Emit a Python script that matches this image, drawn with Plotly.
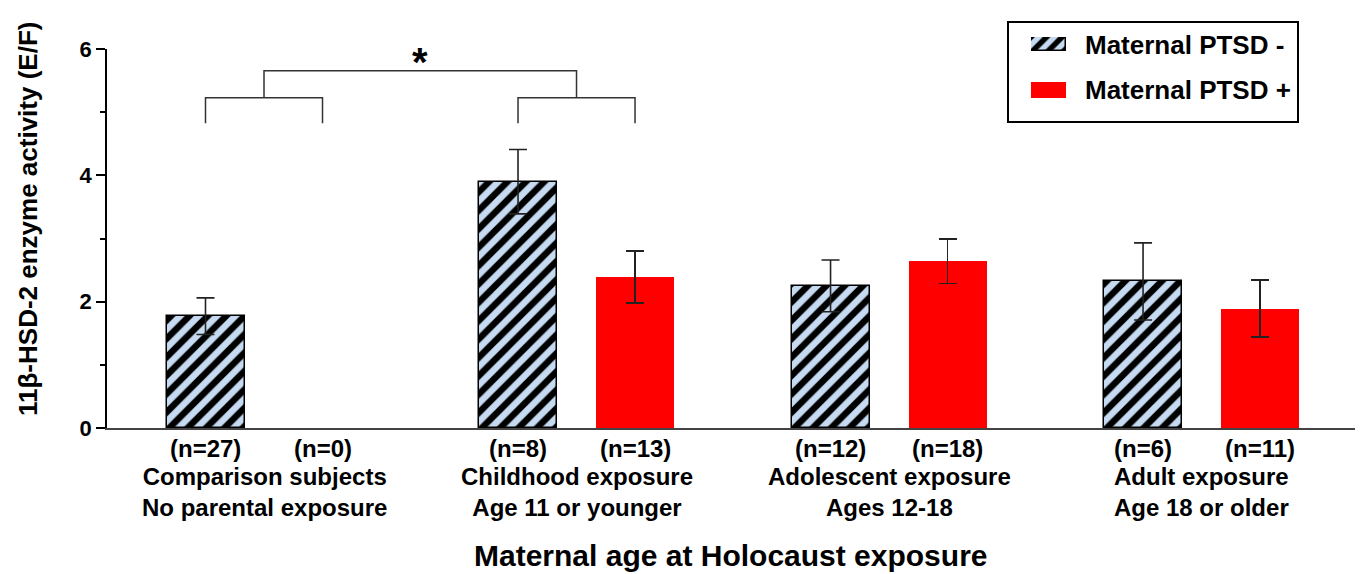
import plotly.graph_objects as go

# ---- data ----
groups = ["Comparison subjects<br>No parental exposure",
          "Childhood exposure<br>Age 11 or younger",
          "Adolescent exposure<br>Ages 12-18",
          "Adult exposure<br>Age 18 or older"]
neg_values = [1.77, 3.90, 2.25, 2.32]
neg_errors = [0.29, 0.51, 0.41, 0.61]
neg_n = ["(n=27)", "(n=8)", "(n=12)", "(n=6)"]
pos_values = [None, 2.39, 2.64, 1.89]
pos_errors = [0.0, 0.41, 0.35, 0.45]
pos_n = ["(n=0)", "(n=13)", "(n=18)", "(n=11)"]
series_names = ["Maternal PTSD -", "Maternal PTSD +"]
y_title = "11β-HSD-2 enzyme activity (E/F)"
x_title = "Maternal age at Holocaust exposure"
y_ticks = [0, 2, 4, 6]

# ---- layout geometry ----
W, H = 1363, 574
L, R, T, B = 107, 8, 10, 146
PLOT_TOP = 49
PW, PH = W - L - R, H - T - B
def px2x(px):
    return (px - L) / PW
def py2y(py):
    return (H - B - py) / PH

FONT = "Liberation Sans, Arial, sans-serif"
centers = list(range(len(groups)))
off = 0.1872
bw = 0.2496
neg_x = [c - off for c in centers]
pos_x = [c + off for c in centers]

HATCH_BG = "#c6dbf1"
RED = "#ff0000"

fig = go.Figure()
fig.add_trace(go.Bar(
    x=neg_x, y=neg_values, width=bw, name=series_names[0],
    marker=dict(color=HATCH_BG, line=dict(color="black", width=1.5),
                pattern=dict(shape="/", fgcolor="black", bgcolor=HATCH_BG,
                             size=13, solidity=0.5, fillmode="replace", fgopacity=1)),
    error_y=dict(type="data", array=neg_errors, color="#222", thickness=1.6, width=9),
    showlegend=False))
fig.add_trace(go.Bar(
    x=pos_x, y=pos_values, width=bw, name=series_names[1],
    marker=dict(color=RED, line=dict(width=0)),
    error_y=dict(type="data", array=pos_errors, color="#222", thickness=1.6, width=9),
    showlegend=False))

# legend swatches drawn as real bars on small helper axes
sw1 = dict(x0=1031, x1=1066, y0=37, y1=51)
sw2 = dict(x0=1031, x1=1066, y0=82, y1=98)
fig.add_trace(go.Bar(x=[0.5], y=[1], width=1, xaxis="x2", yaxis="y2", showlegend=False,
                     hoverinfo="skip",
                     marker=dict(color=HATCH_BG, line=dict(color="black", width=1.5),
                                 pattern=dict(shape="/", fgcolor="black", bgcolor=HATCH_BG,
                                              size=11, solidity=0.5, fillmode="replace",
                                              fgopacity=1))))
fig.add_trace(go.Bar(x=[0.5], y=[1], width=1, xaxis="x3", yaxis="y3", showlegend=False,
                     hoverinfo="skip", marker=dict(color=RED, line=dict(width=0))))

annotations = []
bold = dict(family=FONT, size=24, color="black", weight="bold")
for i in range(len(groups)):
    annotations.append(dict(x=neg_x[i], y=0, xref="x", yref="paper", text=neg_n[i],
                            showarrow=False, yanchor="middle", yshift=-20, font=bold))
    annotations.append(dict(x=pos_x[i], y=0, xref="x", yref="paper", text=pos_n[i],
                            showarrow=False, yanchor="middle", yshift=-20, font=bold))
    annotations.append(dict(x=centers[i], y=0, xref="x", yref="paper", text=groups[i],
                            showarrow=False, yanchor="middle", yshift=-64, font=bold))

annotations.append(dict(x=px2x(731), y=py2y(555), xref="paper", yref="paper", text=x_title,
                        showarrow=False, yanchor="middle",
                        font=dict(family=FONT, size=30, color="black", weight="bold")))
annotations.append(dict(x=px2x(28), y=py2y(219), xref="paper", yref="paper", text=y_title,
                        textangle=-90, showarrow=False, xanchor="center", yanchor="middle",
                        font=dict(family=FONT, size=26, color="black", weight="bold")))

# significance brackets
lower_y, leg_y, upper_y, star_y = 5.229, 4.824, 5.656, 5.80
shapes = []
line_style = dict(color="#333", width=1.5)
brackets = [(neg_x[0], pos_x[0]), (neg_x[1], pos_x[1])]
mids = []
for a, b in brackets:
    shapes.append(dict(type="path", xref="x", yref="y",
                       path=f"M{a},{leg_y} L{a},{lower_y} L{b},{lower_y} L{b},{leg_y}",
                       line=line_style))
    mids.append((a + b) / 2)
shapes.append(dict(type="path", xref="x", yref="y",
                   path=f"M{mids[0]},{lower_y} L{mids[0]},{upper_y} L{mids[1]},{upper_y} L{mids[1]},{lower_y}",
                   line=line_style))
annotations.append(dict(x=(mids[0] + mids[1]) / 2, y=star_y, xref="x", yref="y", text="*",
                        showarrow=False, yanchor="middle",
                        font=dict(family=FONT, size=40, color="black", weight="bold")))

# legend box and labels
shapes.append(dict(type="rect", xref="paper", yref="paper",
                   x0=px2x(1008), x1=px2x(1298), y0=py2y(122), y1=py2y(22),
                   line=dict(color="black", width=2), fillcolor="white", layer="below"))
legend_font = dict(family=FONT, size=26, color="black", weight="bold")
annotations.append(dict(x=px2x(1083), y=py2y(45), xref="paper", yref="paper",
                        text=series_names[0], showarrow=False, xanchor="left",
                        yanchor="middle", font=legend_font))
annotations.append(dict(x=px2x(1083), y=py2y(90), xref="paper", yref="paper",
                        text=series_names[1], showarrow=False, xanchor="left",
                        yanchor="middle", font=legend_font))

fig.update_layout(
    width=W, height=H, margin=dict(l=L, r=R, t=T, b=B, autoexpand=False),
    paper_bgcolor="white", plot_bgcolor="white",
    bargap=0, barmode="overlay",
    font=dict(family=FONT, color="black"),
    xaxis=dict(range=[-0.5024, 3.491], showline=True, linecolor="#444", linewidth=1.5,
               showticklabels=False, ticks="", showgrid=False, zeroline=False,
               automargin=False),
    yaxis=dict(range=[0, 6], domain=[0, py2y(PLOT_TOP)], tickvals=y_ticks, showline=True,
               linecolor="black", linewidth=1.5, automargin=False,
               ticks="outside", ticklen=9, tickwidth=1.5, tickcolor="black",
               showgrid=False, zeroline=False,
               tickfont=dict(family=FONT, size=22, color="black", weight="bold"),
               minor=dict(dtick=1, ticks="outside", ticklen=5, tickwidth=1.5,
                          tickcolor="black", showgrid=False)),
    xaxis2=dict(domain=[px2x(sw1["x0"]), px2x(sw1["x1"])], range=[0, 1], visible=False,
                anchor="y2", automargin=False),
    yaxis2=dict(domain=[py2y(sw1["y1"]), py2y(sw1["y0"])], range=[0, 1], visible=False,
                anchor="x2", automargin=False),
    xaxis3=dict(domain=[px2x(sw2["x0"]), px2x(sw2["x1"])], range=[0, 1], visible=False,
                anchor="y3", automargin=False),
    yaxis3=dict(domain=[py2y(sw2["y1"]), py2y(sw2["y0"])], range=[0, 1], visible=False,
                anchor="x3", automargin=False),
    shapes=shapes, annotations=annotations,
)

fig.write_html("out.html", config={"displayModeBar": False},
               post_script="document.body.style.margin='0px';")
